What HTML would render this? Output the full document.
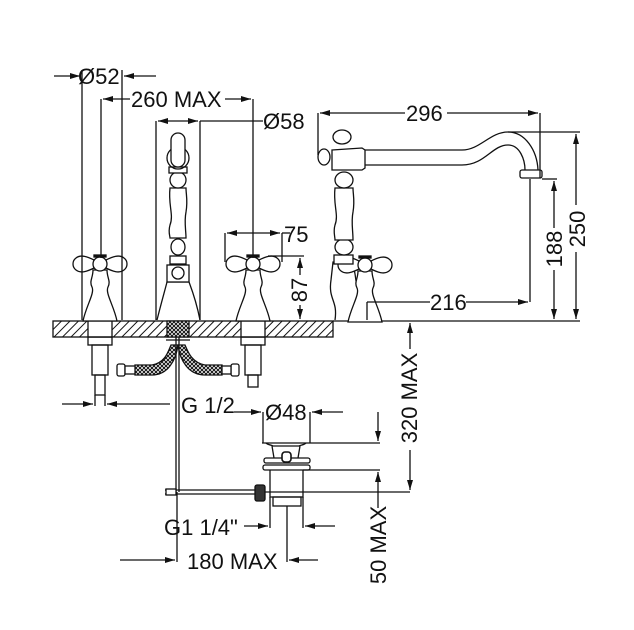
<!DOCTYPE html>
<html><head><meta charset="utf-8"><style>
html,body{margin:0;padding:0;background:#fff;}
svg{display:block;}
text{font-family:"Liberation Sans",sans-serif;font-size:22px;fill:#111;}
</style></head><body>
<svg width="634" height="630" viewBox="0 0 634 630" xmlns="http://www.w3.org/2000/svg">
<defs>
<pattern id="h" width="6" height="6" patternUnits="userSpaceOnUse" patternTransform="rotate(45)">
<rect width="6" height="6" fill="#fff"/><line x1="0" y1="0" x2="0" y2="6" stroke="#111" stroke-width="2"/></pattern>
<pattern id="x" width="4" height="4" patternUnits="userSpaceOnUse"><rect width="4" height="4" fill="#fff"/><path d="M0 0L4 4M4 0L0 4" stroke="#111" stroke-width="1"/></pattern>
<marker id="a" viewBox="0 0 10 6" refX="10" refY="3" markerWidth="11" markerHeight="6" orient="auto-start-reverse" markerUnits="userSpaceOnUse"><path d="M0 0L10 3L0 6z" fill="#111"/></marker>
<g id="hd" fill="#fff" stroke="#111" stroke-width="1.3">
<path d="M-7,6 C-7,14 -11,17 -8,23 C-5,29 -14,42 -17,57 L17,57 C14,42 5,29 8,23 C11,17 7,14 7,6 Z"/>
<path d="M-6,-4 C-12,-7 -19,-10 -24,-6 C-28,-3 -28,3 -24,6 C-19,10 -12,7 -6,4 Z"/>
<path d="M6,-4 C12,-7 19,-10 24,-6 C28,-3 28,3 24,6 C19,10 12,7 6,4 Z"/>
<circle r="7"/>
<rect x="-6" y="-9" width="12" height="2" fill="#111"/>
</g>
</defs>
<g stroke="#111" stroke-width="1.3" fill="none">
<rect x="53" y="321" width="280" height="16" fill="url(#h)"/>
<line x1="333" y1="321" x2="580" y2="321"/>
<rect x="88" y="321" width="24" height="16" fill="#fff"/>
<rect x="241" y="321" width="24" height="16" fill="#fff"/>
<rect x="167" y="321" width="22" height="16" fill="url(#x)"/>
<use href="#hd" x="100" y="264"/>
<use href="#hd" x="253" y="264"/>
<path d="M157,320 C162,300 165,290 167,282 L189,282 C192,290 196,300 200,320" fill="#fff"/>
<rect x="167" y="265" width="22" height="17" fill="#fff"/>
<circle cx="178" cy="273" r="6" fill="#fff"/>
<rect x="170" y="256" width="16" height="8" fill="#fff"/>
<ellipse cx="178" cy="247" rx="7" ry="8" fill="#fff"/>
<path d="M170,188 C168,205 174,215 170,225 C168,232 170,236 170,238 L186,238 C186,230 184,222 186,212 C188,200 186,195 186,188 Z" fill="#fff"/>
<ellipse cx="178" cy="180" rx="8" ry="8" fill="#fff"/>
<rect x="169" y="167" width="18" height="6" fill="#fff"/>
<circle cx="178" cy="158" r="11"/>
<rect x="171" y="133" width="14" height="34" rx="7" fill="#fff"/>
<rect x="88" y="337" width="24" height="8"/><rect x="92" y="345" width="16" height="30"/><rect x="95" y="375" width="10" height="20"/>
<rect x="241" y="337" width="24" height="8"/><rect x="245" y="345" width="16" height="30"/><rect x="248" y="375" width="10" height="12"/>
<path d="M135,365 L152,365 C165,363 168,352 171,345 L178,345 C176,360 168,375 152,375 L135,375 Z" fill="url(#x)"/>
<path d="M222,365 L205,365 C192,363 188,352 185,345 L178,345 C180,360 188,375 205,375 L222,375 Z" fill="url(#x)"/>
<rect x="117" y="364" width="8" height="12" rx="2" fill="#fff"/><rect x="125" y="366" width="10" height="8" fill="#fff"/>
<rect x="231" y="364" width="8" height="12" rx="2" fill="#fff"/><rect x="222" y="366" width="9" height="8" fill="#fff"/>
<line x1="166" y1="340" x2="190" y2="340"/>
<line x1="176" y1="337" x2="176" y2="492"/><line x1="179" y1="337" x2="179" y2="492"/>
<path d="M335,320 C338,300 328,300 331,280 L333,262 L352,262 L352,268 C358,270 352,290 366,300 L372,320" fill="#fff"/>
<use href="#hd" x="365" y="265"/>
<rect x="334" y="255" width="19" height="9" fill="#fff"/>
<ellipse cx="344" cy="247" rx="9" ry="8" fill="#fff"/>
<path d="M335,188 C333,205 339,215 335,225 C333,232 335,236 335,240 L353,240 C353,230 351,222 353,212 C355,200 353,195 353,188 Z" fill="#fff"/>
<ellipse cx="344" cy="180" rx="9" ry="8" fill="#fff"/>
<path d="M332,150 L362,148 L365,150 L365,168 L362,170 L332,170 Z" fill="#fff"/>
<ellipse cx="342" cy="137" rx="9" ry="7" fill="#fff"/>
<ellipse cx="324" cy="157" rx="6" ry="8" fill="#fff"/>
<path d="M365,150 L462,150 C480,150 490,132 508,132 C525,132 537,150 538,170 M365,165 L462,165 C485,165 492,145 508,145 C520,145 525,160 525,170"/>
<rect x="520" y="170" width="22" height="8" rx="2" fill="#fff"/>
<line x1="262" y1="443" x2="310" y2="443"/>
<path d="M266,443 C268,445 272,445 273,446 L299,446 C301,445 304,445 306,443" />
<rect x="264" y="458" width="46" height="5" rx="2" fill="#fff"/>
<rect x="263" y="465" width="47" height="5" rx="2" fill="#fff"/>
<path d="M272,446 L274,458 M300,446 L298,458"/>
<rect x="282" y="452" width="9" height="10" rx="3" fill="#fff" stroke-width="1.6"/>
<path d="M270,470 L270,497 L303,497 L303,470"/>
<rect x="273" y="497" width="28" height="9"/>
<rect x="255" y="485" width="10" height="16" rx="2" fill="#333"/>
<line x1="165" y1="490" x2="255" y2="490"/><line x1="165" y1="494" x2="255" y2="494"/>
<rect x="166" y="489" width="10" height="6" fill="#fff"/>
<line x1="265" y1="492" x2="410" y2="492"/>
<line x1="82" y1="70" x2="82" y2="320"/><line x1="122" y1="70" x2="122" y2="320"/>
<line x1="54" y1="76" x2="80" y2="76" marker-end="url(#a)"/>
<line x1="156" y1="76" x2="124" y2="76" marker-end="url(#a)"/>
<line x1="101" y1="99" x2="101" y2="258"/><line x1="253" y1="99" x2="253" y2="258"/>
<line x1="130" y1="99" x2="103" y2="99" marker-end="url(#a)"/>
<line x1="225" y1="99" x2="251" y2="99" marker-end="url(#a)"/>
<line x1="156" y1="121" x2="156" y2="320"/><line x1="200" y1="121" x2="200" y2="320"/>
<line x1="178" y1="121" x2="158" y2="121" marker-end="url(#a)"/>
<line x1="178" y1="121" x2="198" y2="121" marker-end="url(#a)"/>
<line x1="200" y1="121" x2="263" y2="121"/>
<line x1="225" y1="233" x2="225" y2="262"/><line x1="282" y1="233" x2="282" y2="262"/>
<line x1="253" y1="233" x2="227" y2="233" marker-end="url(#a)"/>
<line x1="253" y1="233" x2="280" y2="233" marker-end="url(#a)"/>
<line x1="282" y1="233" x2="290" y2="233"/>
<line x1="268" y1="256" x2="304" y2="256"/>
<line x1="300" y1="275" x2="300" y2="258" marker-end="url(#a)"/>
<line x1="300" y1="305" x2="300" y2="319" marker-end="url(#a)"/>
<line x1="318" y1="113" x2="318" y2="155"/><line x1="540" y1="113" x2="540" y2="178"/>
<line x1="405" y1="113" x2="320" y2="113" marker-end="url(#a)"/>
<line x1="447" y1="113" x2="538" y2="113" marker-end="url(#a)"/>
<line x1="508" y1="132" x2="580" y2="132"/>
<line x1="576" y1="205" x2="576" y2="134" marker-end="url(#a)"/>
<line x1="576" y1="252" x2="576" y2="319" marker-end="url(#a)"/>
<line x1="542" y1="179" x2="557" y2="179"/>
<line x1="554" y1="228" x2="554" y2="181" marker-end="url(#a)"/>
<line x1="554" y1="270" x2="554" y2="319" marker-end="url(#a)"/>
<line x1="530" y1="179" x2="530" y2="302"/>
<line x1="367" y1="302" x2="367" y2="320"/>
<line x1="367" y1="302" x2="430" y2="302"/>
<line x1="466" y1="302" x2="528" y2="302" marker-end="url(#a)"/>
<line x1="62" y1="404" x2="93" y2="404" marker-end="url(#a)"/>
<line x1="170" y1="404" x2="107" y2="404" marker-end="url(#a)"/>
<line x1="95" y1="395" x2="95" y2="406"/><line x1="105" y1="395" x2="105" y2="406"/>
<line x1="263" y1="412" x2="263" y2="443"/><line x1="310" y1="412" x2="310" y2="443"/>
<line x1="234" y1="412" x2="261" y2="412" marker-end="url(#a)"/>
<line x1="343" y1="412" x2="312" y2="412" marker-end="url(#a)"/>
<line x1="310" y1="443" x2="380" y2="443"/>
<line x1="378" y1="412" x2="378" y2="441" marker-end="url(#a)"/>
<line x1="303" y1="470" x2="380" y2="470"/>
<line x1="378" y1="508" x2="378" y2="472" marker-end="url(#a)"/>
<line x1="410" y1="349" x2="410" y2="323" marker-end="url(#a)"/>
<line x1="410" y1="450" x2="410" y2="490" marker-end="url(#a)"/>
<line x1="270" y1="497" x2="270" y2="528"/><line x1="303" y1="497" x2="303" y2="528"/>
<line x1="244" y1="526" x2="268" y2="526" marker-end="url(#a)"/>
<line x1="335" y1="526" x2="305" y2="526" marker-end="url(#a)"/>
<line x1="287" y1="506" x2="287" y2="562"/>
<line x1="177" y1="492" x2="177" y2="562"/>
<line x1="120" y1="560" x2="175" y2="560" marker-end="url(#a)"/>
<line x1="318" y1="560" x2="289" y2="560" marker-end="url(#a)"/>
</g>
<g>
<text x="78" y="84">Ø52</text>
<text x="131" y="107">260 MAX</text>
<text x="263" y="129">Ø58</text>
<text x="284" y="242">75</text>
<text transform="translate(307,290) rotate(-90)" text-anchor="middle">87</text>
<text x="406" y="121">296</text>
<text x="430" y="310">216</text>
<text transform="translate(562,249) rotate(-90)" text-anchor="middle">188</text>
<text transform="translate(585,229) rotate(-90)" text-anchor="middle">250</text>
<text x="181" y="413">G 1/2</text>
<text x="265" y="420">Ø48</text>
<text transform="translate(417,398) rotate(-90)" text-anchor="middle">320 MAX</text>
<text transform="translate(386,545) rotate(-90)" text-anchor="middle">50 MAX</text>
<text x="164" y="535">G1 1/4"</text>
<text x="187" y="569">180 MAX</text>
</g>
</svg>
</body></html>
